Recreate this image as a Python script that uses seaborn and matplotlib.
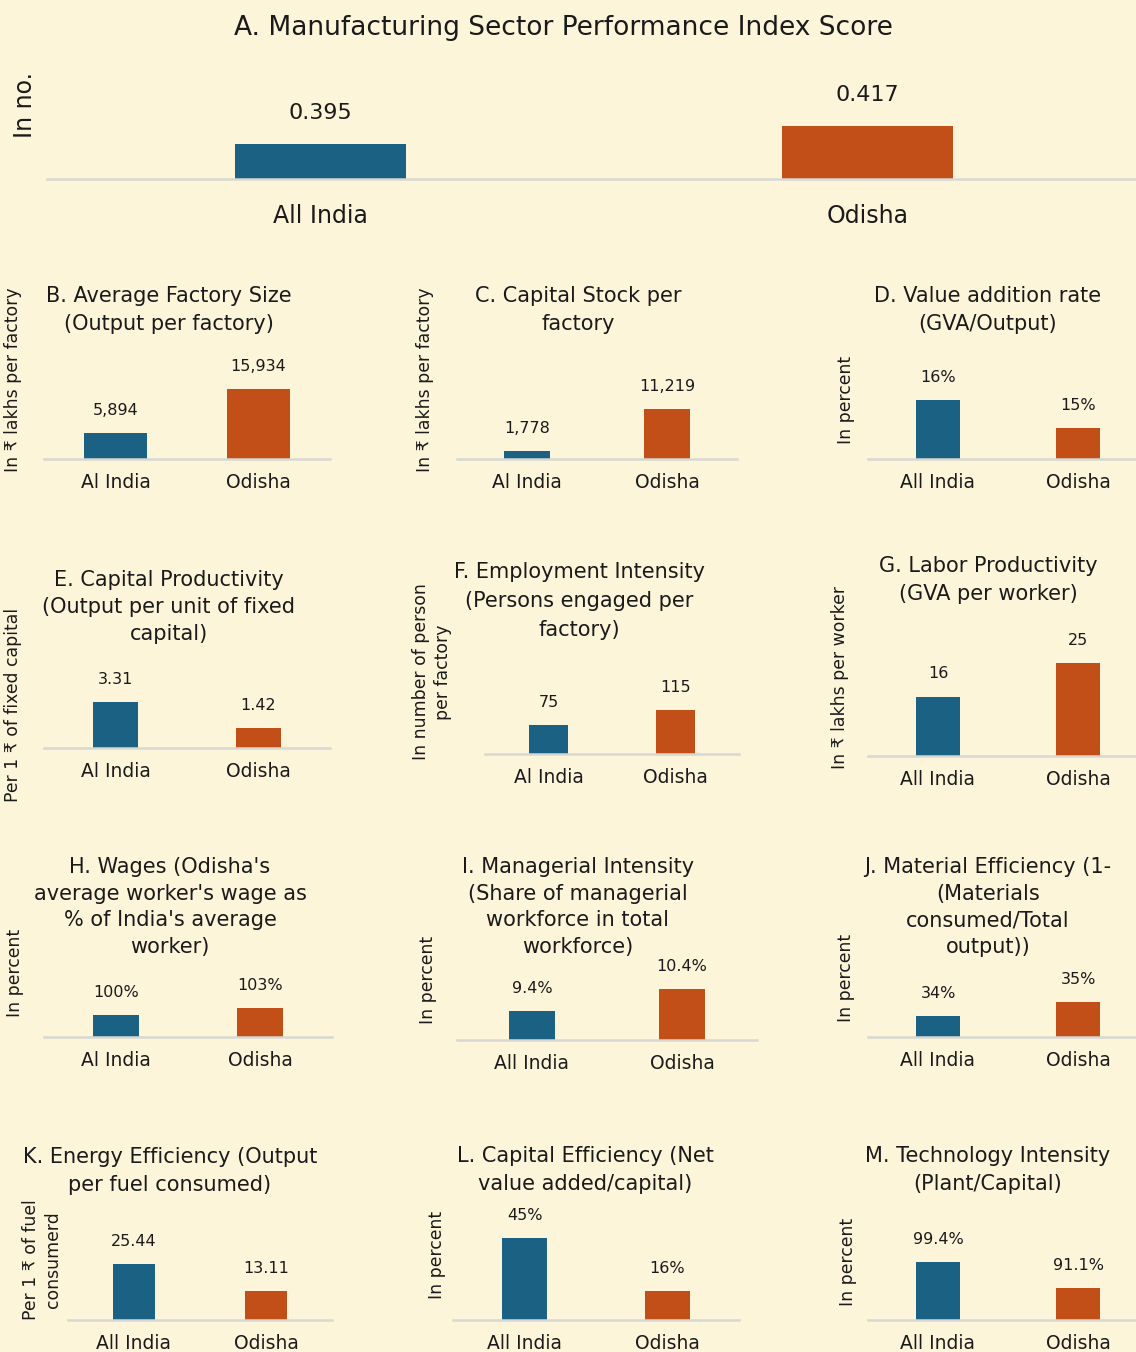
import matplotlib
matplotlib.use("Agg")
import matplotlib.pyplot as plt
import seaborn as sns
import pandas as pd

# ---------------- data ----------------
regions = ["All India", "Odisha"]

a_values = [0.395, 0.417]
b_values = [5894, 15934]
c_values = [1778, 11219]
d_values = [16, 15]
e_values = [3.31, 1.42]
f_values = [75, 115]
g_values = [16, 25]
h_values = [100, 103]
i_values = [9.4, 10.4]
j_values = [34, 35]
k_values = [25.44, 13.11]
l_values = [45, 16]
m_values = [99.4, 91.1]

tick_labels_short = ["Al India", "Odisha"]

titles = {
    "A": "A. Manufacturing Sector Performance Index Score",
    "B": "B. Average Factory Size\n(Output per factory)",
    "C": "C. Capital Stock per\nfactory",
    "D": "D. Value addition rate\n(GVA/Output)",
    "E": "E. Capital Productivity\n(Output per unit of fixed\ncapital)",
    "F": "F. Employment Intensity\n(Persons engaged per\nfactory)",
    "G": "G. Labor Productivity\n(GVA per worker)",
    "H": "H. Wages (Odisha's\naverage worker's wage as\n% of India's average\nworker)",
    "I": "I. Managerial Intensity\n(Share of managerial\nworkforce in total\nworkforce)",
    "J": "J. Material Efficiency (1-\n(Materials\nconsumed/Total\noutput))",
    "K": "K. Energy Efficiency (Output\nper fuel consumed)",
    "L": "L. Capital Efficiency (Net\nvalue added/capital)",
    "M": "M. Technology Intensity\n(Plant/Capital)",
}
ylabels = {
    "A": "In no.",
    "B": "In ₹ lakhs per factory",
    "C": "In ₹ lakhs per factory",
    "D": "In percent",
    "E": "Per 1 ₹ of fixed capital",
    "F": "In number of person\nper factory",
    "G": "In ₹ lakhs per worker",
    "H": "In percent",
    "I": "In percent",
    "J": "In percent",
    "K": "Per 1 ₹ of fuel\nconsumerd",
    "L": "In percent",
    "M": "In percent",
}

# ---------------- style ----------------
BG = "#FCF5DA"
BLUE = "#1A6184"
ORANGE = "#C24F18"
BASE = "#D8D8D2"
TXT = "#1a1a1a"

sns.set_theme(style="white")
plt.rcParams["font.family"] = ["DejaVu Sans", "Open Sans"]
plt.rcParams["text.color"] = TXT

W, H = 1136, 1352
fig = plt.figure(figsize=(W / 100, H / 100), dpi=100)
fig.patch.set_facecolor(BG)


def fx(x):
    return x / W


def fy(y):
    return 1 - y / H


# panel layout: key -> (values, fmt, x0, x1, baseline_y, ylim, bar width, ticklabels,
#                       title (x, y_center), ylabel (x, y_center), title line spacing)
panels = {
    "B": (b_values, "{:,.0f}", 44, 330, 459, (0, 22763), 0.44, tick_labels_short, (169, 310), (13, 380), 1.5),
    "C": (c_values, "{:,.0f}", 457, 737, 459, (0, 22438), 0.33, tick_labels_short, (578, 310), (425, 380), 1.5),
    "D": (d_values, "{:.0f}%", 868, 1148, 459, (13.89, 17.46), 0.32, regions, (988, 310), (846, 400), 1.5),
    "E": (e_values, "{:.2f}", 44, 330, 748, (0, 7.2), 0.32, tick_labels_short, (169, 607), (13, 705), 1.43),
    "F": (f_values, "{:.0f}", 485, 739, 754, (0, 261), 0.31, tick_labels_short, (579, 601), (432, 672), 1.57),
    "G": (g_values, "{:.0f}", 868, 1148, 756, (0, 26.9), 0.32, regions, (988, 580), (840, 678), 1.55),
    "H": (h_values, "{:.0f}%", 44, 332, 1037, (90.6, 133.5), 0.32, tick_labels_short, (170, 907), (15, 973), 1.43),
    "I": (i_values, "{:.1f}%", 457, 757, 1040, (8.08, 12.63), 0.31, regions, (578, 907), (428, 980), 1.43),
    "J": (j_values, "{:.0f}%", 868, 1148, 1037, (32.5, 39.64), 0.31, regions, (988, 907), (846, 978), 1.43),
    "K": (k_values, "{:.2f}", 68, 332, 1320, (0, 45.4), 0.32, regions, (170, 1171), (42, 1260), 1.5),
    "L": (l_values, "{:.0f}%", 453, 739, 1320, (0, 54.9), 0.32, regions, (585, 1170), (437, 1255), 1.5),
    "M": (m_values, "{:.1f}%", 868, 1148, 1320, (80.9, 112.8), 0.32, regions, (988, 1170), (848, 1262), 1.5),
}


def draw_panel(key, values, fmt, x0, x1, base_y, ylim, width, ticks, tpos, ypos,
               title_ls=1.5, ax_h=100, title_fs=15.0, tick_fs=13.5, val_fs=11.5,
               ylab_fs=12.4, tick_pad=10, val_pad=11):
    ax = fig.add_axes([fx(x0), fy(base_y), (x1 - x0) / W, ax_h / H])
    ax.set_facecolor("none")
    df = pd.DataFrame({"region": regions, "value": values})
    sns.barplot(data=df, x="region", y="value", hue="region",
                palette=[BLUE, ORANGE], width=width, ax=ax, legend=False,
                saturation=1, edgecolor="none")
    ax.set_xlim(-0.5, 1.5)
    ax.set_ylim(*ylim)
    for sp in ["top", "left", "right"]:
        ax.spines[sp].set_visible(False)
    ax.spines["bottom"].set_color(BASE)
    ax.spines["bottom"].set_linewidth(1.8)
    ax.set_yticks([])
    ax.set_xlabel("")
    ax.set_ylabel("")
    ax.set_xticks([0, 1])
    ax.set_xticklabels(ticks, fontsize=tick_fs, color=TXT)
    ax.tick_params(axis="x", length=0, pad=tick_pad)
    for cont, v in zip(ax.containers, values):
        ax.bar_label(cont, labels=[fmt.format(v)], padding=val_pad,
                     fontsize=val_fs, color=TXT)
    fig.text(fx(tpos[0]), fy(tpos[1]), titles[key], ha="center", va="center",
             fontsize=title_fs, linespacing=title_ls, color=TXT)
    fig.text(fx(ypos[0]), fy(ypos[1]), ylabels[key], ha="center", va="center",
             rotation=90, fontsize=ylab_fs, linespacing=1.3, color=TXT)
    return ax


# panel A
draw_panel("A", a_values, "{:.3f}", 47, 1141, 179, (0.352, 0.474), 0.314, regions,
           (563, 28), (25, 105), title_fs=19, tick_fs=17, val_fs=16,
           ylab_fs=17, tick_pad=18, val_pad=15)

for k, spec in panels.items():
    draw_panel(k, *spec)

fig.savefig("out.png", dpi=100, facecolor=BG)
